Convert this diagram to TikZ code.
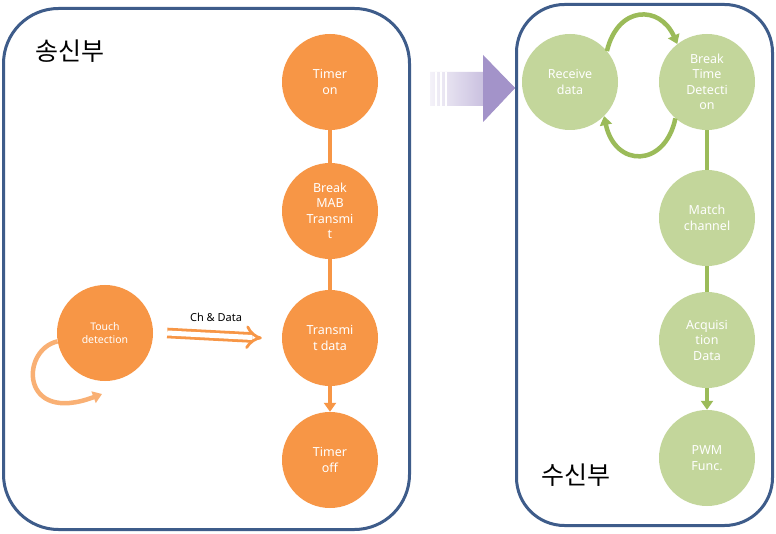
\documentclass[tikz,border=0pt]{standalone}
\usepackage{fontspec}
\setmainfont{Noto Sans}
\newfontfamily\kr{Noto Sans CJK KR}
\usetikzlibrary{arrows.meta}
\definecolor{orng}{HTML}{F79646}
\definecolor{grn}{HTML}{C3D69B}
\definecolor{grnline}{HTML}{9BBB59}
\definecolor{frm}{HTML}{3E5C8A}
\definecolor{purp}{HTML}{A393C9}
\begin{document}
\begin{tikzpicture}[x=1pt,y=-1pt,
  frame/.style={draw=frm,line width=3pt,rounded corners=55pt,fill=white},
  ocirc/.style={circle,fill=orng,minimum size=96pt,inner sep=0pt,align=center,text=white,font=\fontsize{12.5}{15.5}\selectfont},
  gcirc/.style={circle,fill=grn,minimum size=96pt,inner sep=0pt,align=center,text=white,font=\fontsize{12.5}{15.5}\selectfont},
  oline/.style={draw=orng,line width=4.5pt},
  gline/.style={draw=grnline,line width=4.5pt},
  tip/.style={-{Triangle[width=12pt,length=9pt]}},
  title/.style={font=\kr\fontsize{25}{30}\selectfont,text=black}]
\useasboundingbox (0,0) rectangle (776,534);
\fill[white] (0,0) rectangle (776,534);
% frames
\node[frame,minimum width=406pt,minimum height=521pt] (lframe) at (206.5,269) {};
\node[frame,rounded corners=48pt,minimum width=256pt,minimum height=521pt] (rframe) at (644.5,265) {};
\node[title] (snd) at (70,51) {송신부};
\node[title] (rcv) at (576,475) {수신부};
% left nodes
\node[ocirc] (ton) at (330,82) {Timer\\on};
\node[ocirc] (bmt) at (330,211) {Break\\MAB\\Transmi\\t};
\node[ocirc] (tdat) at (330,338) {Transmi\\t data};
\node[ocirc] (toff) at (330,460) {Timer\\off};
\node[ocirc,font=\fontsize{10.5}{13}\selectfont] (touch) at (105,333) {Touch\\detection};
\draw[oline] (ton) -- (bmt);
\draw[oline] (bmt) -- (tdat);
\draw[oline,tip] (tdat) -- (toff);
\draw[draw=orng!75,line width=4.5pt,tip] (touch.190) .. controls (20,350) and (20,425) .. (102,394);
\draw[draw=orng,line width=2.8pt,double=white,double distance=5pt,-{Implies[]}] ([xshift=14pt]touch.east) -- ([xshift=-20pt]tdat.west);
\node[font=\fontsize{11}{13}\selectfont] (chd) at (216,317) {Ch \& Data};
% big purple arrow
\shade[left color=purp!12,right color=purp!85] (430,72) -- (483,72) -- (483,55) -- (515,88) -- (483,122) -- (483,106) -- (430,106) -- cycle;
\fill[purp] (483,55) -- (515,88) -- (483,122) -- cycle;
\foreach \xx in {436,441,446}{\draw[white,line width=1.2pt] (\xx,72) -- (\xx,106);}
% right nodes
\node[gcirc] (rdat) at (570,82) {Receive\\data};
\node[gcirc] (btd) at (707,82) {Break\\Time\\Detecti\\on};
\node[gcirc] (mch) at (707,218) {Match\\channel};
\node[gcirc] (acq) at (707,340) {Acquisi\\tion\\Data};
\node[gcirc] (pwm) at (707,458) {PWM\\Func.};
\draw[gline,tip] (rdat.40) .. controls (618,5) and (660,5) .. (btd.128);
\draw[gline,tip] (btd.229) .. controls (665,168) and (615,168) .. (rdat.-45);
\draw[gline] (btd) -- (mch);
\draw[gline] (mch) -- (acq);
\draw[gline,tip] (acq) -- (pwm);
\end{tikzpicture}
\end{document}
